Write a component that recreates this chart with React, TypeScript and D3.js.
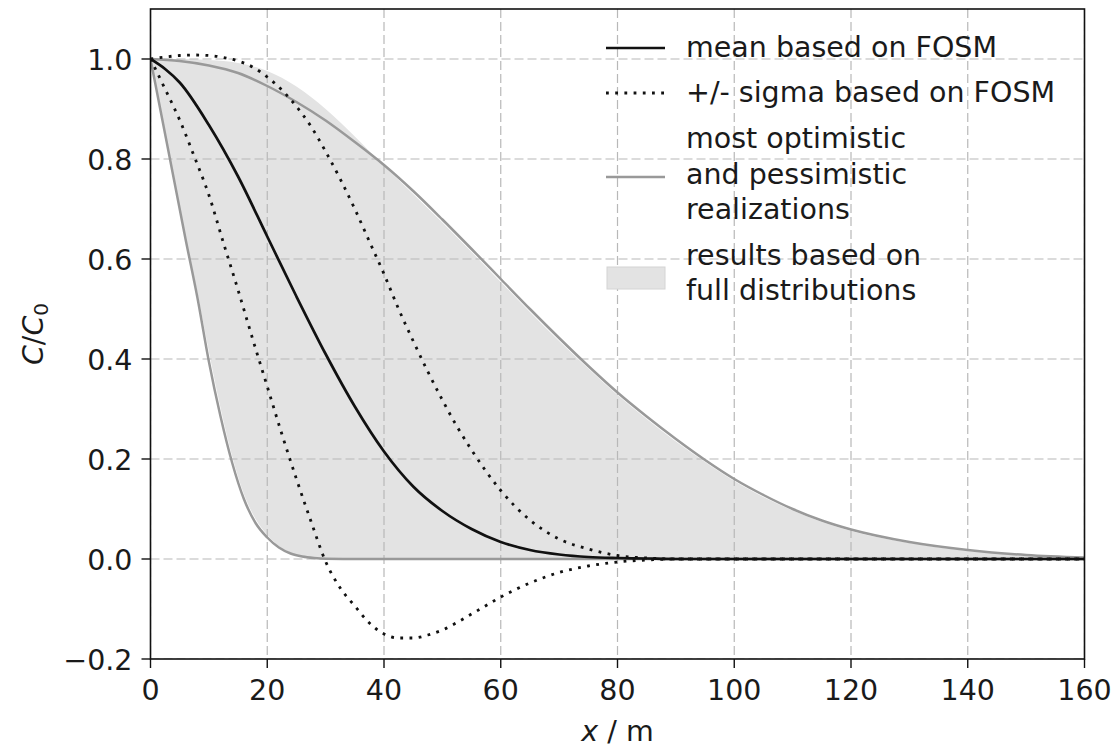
import React from "react";
import * as d3 from "d3";

// ---- data ----
const meanX = [0, 2.5, 5, 10, 15, 20, 25, 30, 35, 40, 45, 50, 55, 60, 65, 70, 75, 80, 85, 90, 100, 120, 140, 160];
const meanY = [1.0, 0.98, 0.953, 0.868, 0.765, 0.645, 0.525, 0.41, 0.305, 0.215, 0.145, 0.096, 0.06, 0.034, 0.018, 0.009, 0.004, 0.002, 0.001, 0, 0, 0, 0, 0];

const sigmaX = [0, 2.5, 5, 7.5, 10, 12.5, 15, 17.5, 20, 22.5, 25, 27.5, 30, 32.5, 35, 37.5, 40, 42.5, 45, 47.5, 50, 52.5, 55, 57.5, 60, 65, 70, 75, 80, 85, 90, 100, 120, 140, 160];
const sigmaUpperY = [1.0, 1.004, 1.007, 1.008, 1.007, 1.003, 0.996, 0.984, 0.964, 0.938, 0.905, 0.865, 0.815, 0.76, 0.7, 0.635, 0.57, 0.5, 0.436, 0.375, 0.318, 0.265, 0.218, 0.175, 0.137, 0.078, 0.04, 0.02, 0.007, 0.002, 0, 0, 0, 0, 0];
const sigmaLowerY = [1.0, 0.94, 0.878, 0.805, 0.728, 0.632, 0.538, 0.44, 0.345, 0.25, 0.16, 0.075, -0.005, -0.058, -0.094, -0.128, -0.15, -0.158, -0.158, -0.152, -0.142, -0.127, -0.11, -0.093, -0.076, -0.048, -0.027, -0.014, -0.006, -0.002, 0, 0, 0, 0, 0];

const optimisticX = [0, 5, 10, 15, 20, 25, 30, 35, 40, 45, 50, 55, 60, 65, 70, 75, 80, 85, 90, 95, 100, 105, 110, 115, 120, 130, 140, 150, 160];
const optimisticY = [1.0, 0.996, 0.987, 0.972, 0.946, 0.914, 0.877, 0.834, 0.788, 0.736, 0.679, 0.62, 0.56, 0.5, 0.442, 0.386, 0.333, 0.285, 0.24, 0.198, 0.16, 0.128, 0.1, 0.077, 0.059, 0.034, 0.018, 0.008, 0.003];

const pessimisticX = [0, 2, 4, 6, 8, 10, 12, 14, 16, 18, 20, 22, 24, 26, 28, 30, 35, 40, 60, 80, 100, 120, 140, 160];
const pessimisticY = [1.0, 0.88, 0.76, 0.64, 0.525, 0.395, 0.285, 0.192, 0.12, 0.072, 0.043, 0.023, 0.011, 0.005, 0.002, 0.0005, 0, 0, 0, 0, 0, 0, 0, 0];

const fillUpperX = [0, 5, 10, 15, 20, 25, 30, 35, 40, 45, 50, 55, 60, 65, 70, 75, 80, 85, 90, 95, 100, 105, 110, 115, 120, 130, 140, 150, 160];
const fillUpperY = [1.0, 1.0, 0.998, 0.992, 0.976, 0.945, 0.9, 0.845, 0.786, 0.73, 0.673, 0.614, 0.554, 0.494, 0.436, 0.381, 0.328, 0.28, 0.235, 0.194, 0.156, 0.124, 0.097, 0.074, 0.056, 0.032, 0.016, 0.007, 0.002];
const fillLowerX = [0, 2, 4, 6, 8, 10, 12, 14, 16, 18, 20, 22, 24, 26, 28, 30, 35, 40, 160];
const fillLowerY = [1.0, 0.875, 0.755, 0.64, 0.535, 0.415, 0.302, 0.205, 0.13, 0.08, 0.048, 0.026, 0.013, 0.006, 0.003, 0.001, 0, 0, 0];

const xTicks = [0, 20, 40, 60, 80, 100, 120, 140, 160];
const yTicks = [-0.2, 0.0, 0.2, 0.4, 0.6, 0.8, 1.0];

const legendItems = [
  { kind: "mean", lines: ["mean based on FOSM"] },
  { kind: "sigma", lines: ["+/- sigma based on FOSM"] },
  { kind: "real", lines: ["most optimistic", "and pessimistic", "realizations"] },
  { kind: "fill", lines: ["results based on", "full distributions"] },
];

const W = 1112;
const H = 749;
const L = 150.5, R = 1084.5, T = 9, B = 659;
const FONT = "'DejaVu Sans', Verdana, sans-serif";
const FS = 28.5;
const TXT = "#1a1a1a";
const GRAY_LINE = "#999999";
const FILL = "#e3e3e3";

export default function App() {
  const x = d3.scaleLinear().domain([0, 160]).range([L, R]);
  const y = d3.scaleLinear().domain([-0.2, 1.1]).range([B, T]);

  const pts = (xs: number[], ys: number[]) => xs.map((v, i) => [v, ys[i]] as [number, number]);
  const line = d3
    .line<[number, number]>()
    .x((d) => x(d[0]))
    .y((d) => y(d[1]))
    .curve(d3.curveMonotoneX);
  const area = d3
    .area<[number, number]>()
    .x((d) => x(d[0]))
    .y0(y(0))
    .y1((d) => y(d[1]))
    .curve(d3.curveMonotoneX);

  const fmt = (v: number) => (v < 0 ? "\u2212" : "") + Math.abs(v).toFixed(1);

  // legend layout
  const legX0 = 606, legX1 = 665, textX = 686;
  const legendRows = [
    { kind: "mean", baselines: [57.3], sym: 48 },
    { kind: "sigma", baselines: [101.7], sym: 93 },
    { kind: "real", baselines: [148.3, 183.8, 219.3], sym: 177 },
    { kind: "fill", baselines: [265, 300.3], sym: 278 },
  ];

  return (
    <svg
      width={W}
      height={H}
      viewBox={`0 0 ${W} ${H}`}
      style={{ position: "absolute", left: 0, top: 0, display: "block", background: "#fff" }}
    >
      <rect x={0} y={0} width={W} height={H} fill="#fff" />
      <defs>
        <clipPath id="plotclip">
          <rect x={L} y={T} width={R - L} height={B - T} />
        </clipPath>
      </defs>

      <g clipPath="url(#plotclip)">
        {/* shaded band of full-distribution results */}
        <path d={area(pts(fillUpperX, fillUpperY)) || ""} fill={FILL} />
        <path d={area(pts(fillLowerX, fillLowerY)) || ""} fill="#fff" />

        {/* grid */}
        {xTicks.map((t) => (
          <line key={"gx" + t} x1={x(t)} x2={x(t)} y1={T} y2={B} stroke="#b8b8b8" strokeWidth={1.2} strokeDasharray="9,4" />
        ))}
        {yTicks.map((t) => (
          <line key={"gy" + t} x1={L} x2={R} y1={y(t)} y2={y(t)} stroke="#b8b8b8" strokeWidth={1.2} strokeDasharray="9,4" />
        ))}

        {/* realizations */}
        <path d={line(pts(optimisticX, optimisticY)) || ""} fill="none" stroke={GRAY_LINE} strokeWidth={2.5} />
        <path d={line(pts(pessimisticX, pessimisticY)) || ""} fill="none" stroke={GRAY_LINE} strokeWidth={2.5} />

        {/* FOSM */}
        <path d={line(pts(meanX, meanY)) || ""} fill="none" stroke="#111" strokeWidth={2.7} />
        <path d={line(pts(sigmaX, sigmaUpperY)) || ""} fill="none" stroke="#111" strokeWidth={2.8} strokeDasharray="2.8,6.4" />
        <path d={line(pts(sigmaX, sigmaLowerY)) || ""} fill="none" stroke="#111" strokeWidth={2.8} strokeDasharray="2.8,6.4" />
      </g>

      {/* frame */}
      <rect x={L} y={T} width={R - L} height={B - T} fill="none" stroke="#111" strokeWidth={1.6} />

      {/* x ticks */}
      {xTicks.map((t) => (
        <g key={"xt" + t}>
          <line x1={x(t)} x2={x(t)} y1={B} y2={B + 9} stroke="#111" strokeWidth={1.4} />
          <text x={x(t)} y={700} textAnchor="middle" fontFamily={FONT} fontSize={FS} fill={TXT}>
            {t}
          </text>
        </g>
      ))}
      {/* y ticks */}
      {yTicks.map((t) => (
        <g key={"yt" + t}>
          <line x1={L - 9} x2={L} y1={y(t)} y2={y(t)} stroke="#111" strokeWidth={1.4} />
          <text x={L - 18} y={y(t) + 10.5} textAnchor="end" fontFamily={FONT} fontSize={FS} fill={TXT}>
            {fmt(t)}
          </text>
        </g>
      ))}

      {/* axis labels */}
      <text x={(L + R) / 2} y={741} textAnchor="middle" fontFamily={FONT} fontSize={FS} fill={TXT}>
        <tspan fontStyle="italic">x</tspan>
        <tspan> / m</tspan>
      </text>
      <text
        transform={`translate(43, ${(T + B) / 2}) rotate(-90)`}
        textAnchor="middle"
        fontFamily={FONT}
        fontSize={FS}
        fill={TXT}
      >
        <tspan fontStyle="italic">C</tspan>
        <tspan>/</tspan>
        <tspan fontStyle="italic">C</tspan>
        <tspan fontSize={20} dy={5}>0</tspan>
      </text>

      {/* legend */}
      {legendRows.map((row, i) => (
        <g key={"leg" + i}>
          {row.kind === "mean" && (
            <line x1={legX0} x2={legX1} y1={row.sym} y2={row.sym} stroke="#111" strokeWidth={2.7} />
          )}
          {row.kind === "sigma" && (
            <line x1={legX0} x2={legX1} y1={row.sym} y2={row.sym} stroke="#111" strokeWidth={2.8} strokeDasharray="2.8,6.4" />
          )}
          {row.kind === "real" && (
            <line x1={legX0} x2={legX1} y1={row.sym} y2={row.sym} stroke={GRAY_LINE} strokeWidth={2.5} />
          )}
          {row.kind === "fill" && (
            <rect x={legX0 + 1} y={row.sym - 11} width={legX1 - legX0 - 1} height={22} fill={FILL} stroke="#d4d4d4" strokeWidth={1} />
          )}
          {legendItems[i].lines.map((s, j) => (
            <text key={j} x={textX} y={row.baselines[j]} fontFamily={FONT} fontSize={FS} fill={TXT}>
              {s}
            </text>
          ))}
        </g>
      ))}
    </svg>
  );
}
